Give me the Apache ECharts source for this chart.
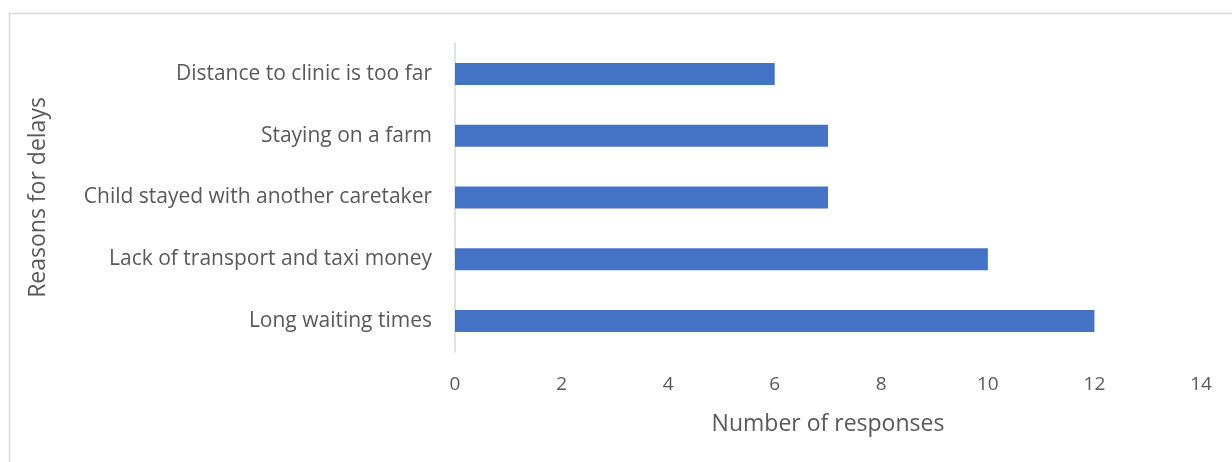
<!DOCTYPE html>
<html>
<head>
<meta charset="utf-8">
<script src="https://cdn.jsdelivr.net/npm/echarts@6/dist/echarts.min.js"></script>
<style>
  html, body { margin: 0; padding: 0; background: #fff; }
  #chart { width: 1232px; height: 462px; }
</style>
</head>
<body>
<div id="chart"></div>
<script>
// bottom to top, as the category axis draws them
var reasons = [
    'Long waiting times',
    'Lack of transport and taxi money',
    'Child stayed with another caretaker',
    'Staying on a farm',
    'Distance to clinic is too far'
];
var responses = [12, 10, 7, 7, 6];
var xTicks = { min: 0, max: 14, interval: 2 };

var chart = echarts.init(document.getElementById('chart'));
var font = 'Open Sans, Liberation Sans, sans-serif';

chart.setOption({
    animation: false,
    textStyle: { fontFamily: font, color: '#595959' },
    graphic: [{
        type: 'rect',
        shape: { x: 9.5, y: 13.5, width: 1240, height: 470 },
        style: { fill: 'none', stroke: '#d9d9d9', lineWidth: 1.5 },
        silent: true
    }],
    grid: { left: 455, right: 31, top: 43, bottom: 110 },
    xAxis: {
        type: 'value',
        min: xTicks.min,
        max: xTicks.max,
        interval: xTicks.interval,
        name: 'Number of responses',
        nameLocation: 'middle',
        nameGap: 61,
        nameTextStyle: { fontSize: 23, color: '#595959', fontFamily: font },
        axisLine: { show: false },
        axisTick: { show: false },
        splitLine: { show: false },
        axisLabel: { fontSize: 19, color: '#595959', margin: 23, fontFamily: font }
    },
    yAxis: {
        type: 'category',
        data: reasons,
        name: 'Reasons for delays',
        nameLocation: 'middle',
        nameGap: 405,
        nameRotate: 90,
        nameTextStyle: { fontSize: 23, color: '#595959', fontFamily: font },
        axisLine: { show: true, lineStyle: { color: '#d9d9d9', width: 1.5 } },
        axisTick: { show: false },
        axisLabel: { fontSize: 21, color: '#595959', margin: 23, fontFamily: font }
    },
    series: [{
        type: 'bar',
        data: responses,
        barWidth: 22,
        itemStyle: { color: '#4472c4' }
    }]
});
</script>
</body>
</html>
